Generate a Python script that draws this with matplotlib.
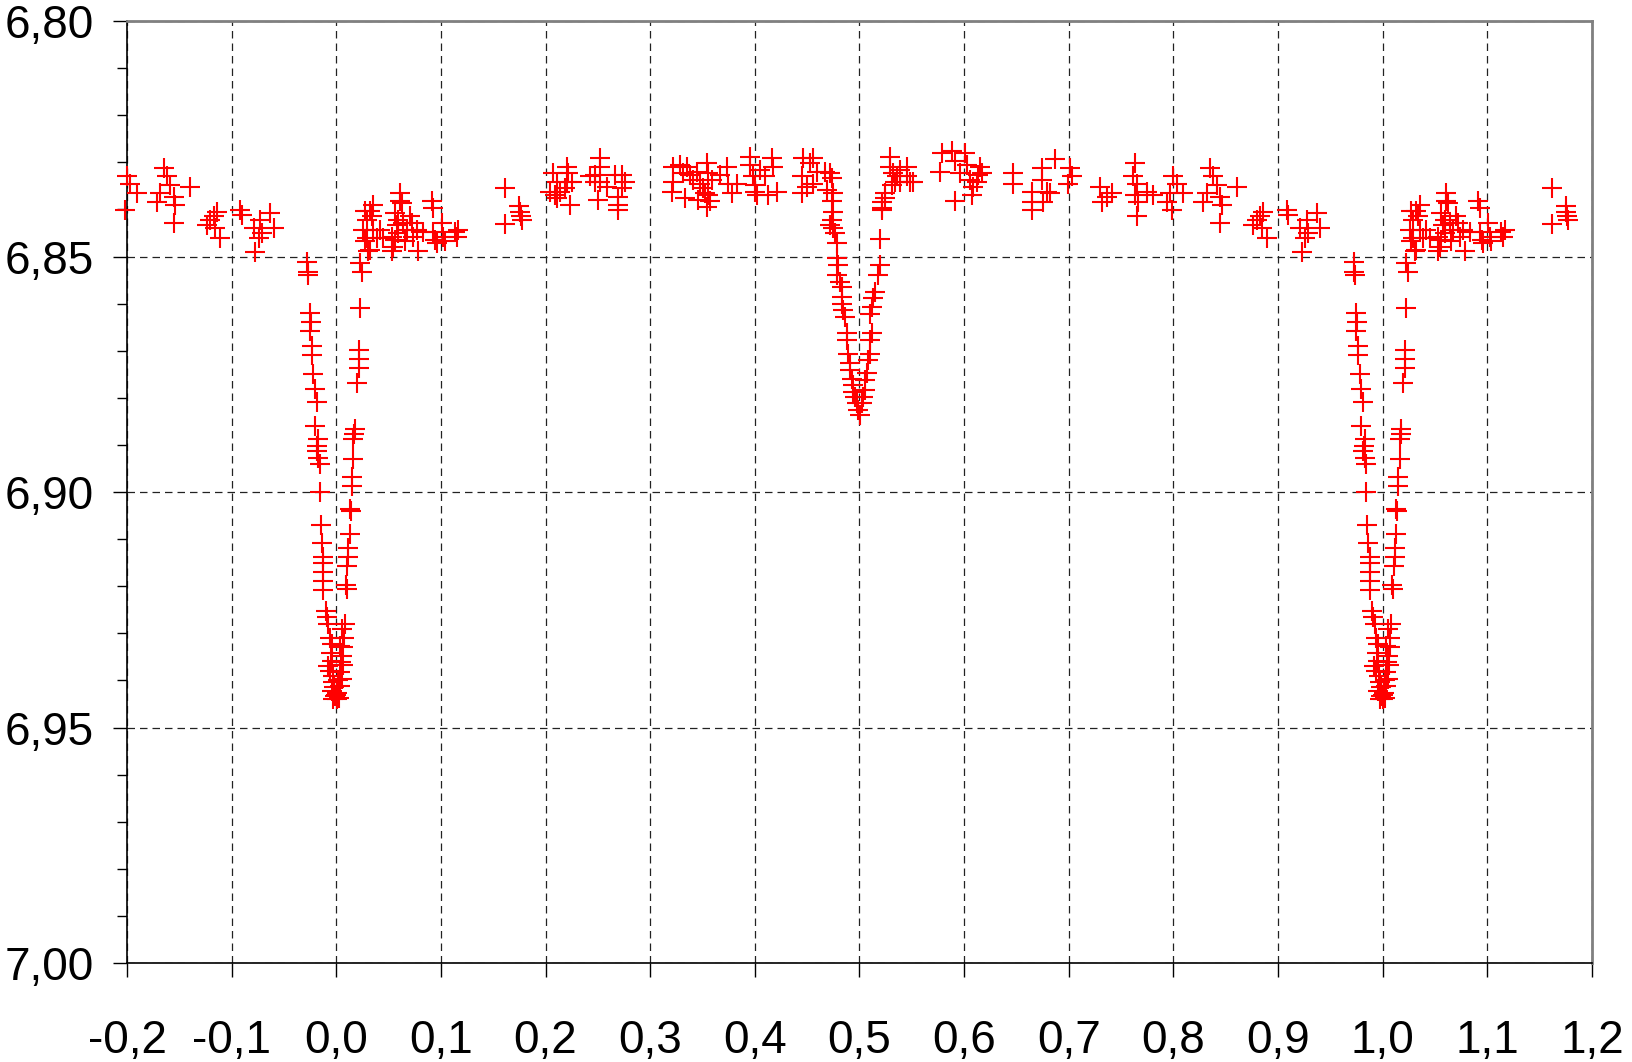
import numpy as np
import matplotlib
matplotlib.use("Agg")
import matplotlib.pyplot as plt
from matplotlib.ticker import MultipleLocator, FuncFormatter

plt.rcParams['font.family'] = ['Liberation Sans Narrow', 'Liberation Sans', 'DejaVu Sans']

# phases (base cycle); points near 0 and 1 are repeated
# on the other side, as in the usual phase diagram
primary_phase = [-0.0277, -0.0274, -0.0268, -0.0252, -0.0242, -0.0252, -0.0236, -0.0236, -0.0220,
                 -0.0204, -0.0188, -0.0204, -0.0172, -0.0182, -0.0188, -0.0172, -0.0156, -0.0156,
                 -0.0147, -0.0137, -0.0124, -0.0124, -0.0124, -0.0124, -0.0124, -0.0099, -0.0092,
                 -0.0076, -0.0061, -0.0045, -0.0054, -0.0045, -0.0061, -0.0035, -0.0029, -0.0045,
                 -0.0013, 0.0003,
                 0.0010, 0.0035, 0.0051, 0.0035, 0.0061, 0.0051, 0.0035, 0.0073, 0.0051, 0.0083,
                 0.0099, 0.0092, 0.0105, 0.0115, 0.0115, 0.0131, 0.0137, 0.0131, 0.0147, 0.0147,
                 0.0162, 0.0162, 0.0172, 0.0178, 0.0194, 0.0217, 0.0217, 0.0217, 0.0226, 0.0242,
                 0.0226, -0.0080, 0.0020, -0.0020, 0.0000, 0.0025, -0.0030, 0.0045, 0.0065]
primary_mag = [6.8511, 6.8533, 6.8539, 6.8619, 6.8638, 6.8658, 6.8690, 6.8709, 6.8750,
               6.8782, 6.8809, 6.8860, 6.8888, 6.8902, 6.8913, 6.8927, 6.8941, 6.9000,
               6.9070, 6.9109, 6.9139, 6.9150, 6.9169, 6.9189, 6.9208, 6.9252, 6.9266,
               6.9281, 6.9309, 6.9323, 6.9341, 6.9358, 6.9380, 6.9390, 6.9404, 6.9422,
               6.9433, 6.9440,
               6.9426, 6.9412, 6.9397, 6.9383, 6.9368, 6.9348, 6.9327, 6.9309, 6.9291, 6.9281,
               6.9206, 6.9198, 6.9157, 6.9138, 6.9118, 6.9090, 6.9040, 6.9036, 6.8987, 6.8968,
               6.8929, 6.8887, 6.8877, 6.8867, 6.8769, 6.8737, 6.8718, 6.8698, 6.8610, 6.8532,
               6.8513, 6.9370, 6.9400, 6.9415, 6.9430, 6.9437, 6.9440, 6.9360, 6.9330]

egress_phase = [0.0306, 0.0322, 0.0274, 0.0290, 0.0259, 0.0354, 0.0290, 0.0322, 0.0274, 0.0354,
                0.0338, 0.0386, 0.0418, 0.0450, 0.0529, 0.0545, 0.0561, 0.0593, 0.0577, 0.0561,
                0.0609, 0.0609, 0.0625, 0.0593, 0.0641, 0.0673, 0.0705, 0.0720, 0.0736, 0.0768,
                0.0784, 0.0832, 0.0912, 0.0928, 0.0928, 0.0944, 0.0959, 0.1007, 0.1023, 0.1039,
                0.1135, 0.1166, 0.1150, 0.0657, 0.0529]
egress_mag = [6.8489, 6.8486, 6.8468, 6.8461, 6.8443, 6.8443, 6.8422, 6.8404, 6.8404, 6.8390,
              6.8415, 6.8461, 6.8443, 6.8461, 6.8489, 6.8479, 6.8465, 6.8450, 6.8433, 6.8408,
              6.8383, 6.8366, 6.8387, 6.8422, 6.8429, 6.8443, 6.8415, 6.8429, 6.8458, 6.8443,
              6.8489, 6.8447, 6.8383, 6.8397, 6.8447, 6.8465, 6.8472, 6.8429, 6.8458, 6.8468,
              6.8447, 6.8443, 6.8458, 6.8468, 6.8458]

max1_phase = [0.1613, 0.1613, 0.1750, 0.1756, 0.1765, 0.1772,
              0.2075, 0.2107, 0.2202, 0.2218, 0.2138, 0.2043, 0.2107, 0.2234, 0.2202, 0.2186,
              0.2091, 0.2250,
              0.2521, 0.2521, 0.2425, 0.2473, 0.2521, 0.2584, 0.2664, 0.2728, 0.2760, 0.2696,
              0.2696, 0.2696, 0.2505, 0.2473, 0.2728,
              0.3221, 0.3221, 0.3205, 0.3285, 0.3317, 0.3348, 0.3380, 0.3412, 0.3444, 0.3476,
              0.3508, 0.3540, 0.3555, 0.3555, 0.3571, 0.3587, 0.3524, 0.3667, 0.3731, 0.3747,
              0.3779, 0.3826, 0.3954, 0.3954, 0.3986, 0.4002, 0.4002, 0.4017, 0.4049, 0.4097,
              0.4129, 0.4161, 0.4177, 0.4209, 0.4464, 0.4447, 0.4527, 0.4559, 0.4591, 0.4495,
              0.4447, 0.4559, 0.4670, 0.4718, 0.4734, 0.4686, 0.4750, 0.4734, 0.4734, 0.4718,
              0.3330, 0.3460, 0.3540]
max1_mag = [6.8354, 6.8430, 6.8392, 6.8405, 6.8415, 6.8422,
            6.8323, 6.8341, 6.8309, 6.8323, 6.8362, 6.8362, 6.8376, 6.8390, 6.8341, 6.8355,
            6.8369, 6.8341,
            6.8291, 6.8309, 6.8330, 6.8341, 6.8341, 6.8352, 6.8327, 6.8327, 6.8341, 6.8373,
            6.8390, 6.8401, 6.8380, 6.8327, 6.8355,
            6.8309, 6.8341, 6.8362, 6.8306, 6.8323, 6.8309, 6.8327, 6.8337, 6.8320, 6.8345,
            6.8355, 6.8302, 6.8323, 6.8369, 6.8383, 6.8337, 6.8366, 6.8327, 6.8309, 6.8345,
            6.8366, 6.8345, 6.8288, 6.8306, 6.8330, 6.8348, 6.8362, 6.8369, 6.8316, 6.8330,
            6.8369, 6.8291, 6.8309, 6.8362, 6.8291, 6.8330, 6.8302, 6.8291, 6.8320, 6.8352,
            6.8366, 6.8345, 6.8320, 6.8323, 6.8334, 6.8359, 6.8366, 6.8383, 6.8422, 6.8433,
            6.8376, 6.8380, 6.8394]

secondary_phase = [0.4751, 0.4751, 0.4766, 0.4782, 0.4782, 0.4798, 0.4782, 0.4814, 0.4830,
                   0.4830, 0.4830, 0.4846, 0.4862, 0.4878, 0.4878, 0.4894, 0.4910, 0.4910,
                   0.4926, 0.4942, 0.4942, 0.4958, 0.4974, 0.4989, 0.5005,
                   0.5021, 0.5037, 0.5053, 0.5053, 0.5069, 0.5085, 0.5101, 0.5101, 0.5117,
                   0.5101, 0.5117, 0.5133, 0.5149, 0.5181, 0.5196, 0.5196, 0.5212, 0.5212,
                   0.5244, 0.5245, 0.5213]
secondary_mag = [6.8405, 6.8440, 6.8451, 6.8472, 6.8504, 6.8518, 6.8539, 6.8554, 6.8564,
                 6.8585, 6.8600, 6.8614, 6.8628, 6.8663, 6.8677, 6.8706, 6.8727, 6.8741,
                 6.8759, 6.8773, 6.8787, 6.8798, 6.8812, 6.8826, 6.8837,
                 6.8812, 6.8798, 6.8784, 6.8763, 6.8748, 6.8720, 6.8706, 6.8677, 6.8663,
                 6.8621, 6.8607, 6.8589, 6.8575, 6.8539, 6.8518, 6.8462, 6.8402, 6.8384,
                 6.8366, 6.8376, 6.8398]

max2_phase = [0.5292, 0.5292, 0.5324, 0.5340, 0.5308, 0.5388, 0.5451, 0.5451, 0.5483, 0.5356,
              0.5388, 0.5515,
              0.5786, 0.5882, 0.5770, 0.5914, 0.5961, 0.6009, 0.6025, 0.6057, 0.6089, 0.6137,
              0.6153, 0.5914, 0.6073, 0.6121, 0.6168,
              0.6470, 0.6470, 0.6646, 0.6646, 0.6646, 0.6741, 0.6741, 0.6789, 0.6757, 0.6869,
              0.6821, 0.7012, 0.7028, 0.6996, 0.7299, 0.7315, 0.7362, 0.7410, 0.7633, 0.7617,
              0.7649, 0.7633, 0.7665, 0.7745, 0.7649, 0.7808, 0.7968, 0.8000, 0.8032, 0.7936,
              0.7984, 0.8095, 0.8350, 0.8382, 0.8414, 0.8318, 0.8286, 0.8446, 0.8462, 0.8605,
              0.8446,
              0.8764, 0.8796, 0.8828, 0.8860, 0.8844, 0.8891, 0.9082, 0.9099, 0.9210, 0.9274,
              0.9290, 0.9369, 0.9401, 0.9226, 0.9258]
max2_mag = [6.8288, 6.8309, 6.8323, 6.8341, 6.8348, 6.8316, 6.8309, 6.8330, 6.8341, 6.8330,
            6.8341, 6.8341,
            6.8281, 6.8277, 6.8320, 6.8298, 6.8323, 6.8281, 6.8306, 6.8337, 6.8352, 6.8327,
            6.8309, 6.8383, 6.8369, 6.8341, 6.8323,
            6.8323, 6.8345, 6.8362, 6.8384, 6.8401, 6.8313, 6.8337, 6.8362, 6.8384, 6.8292,
            6.8366, 6.8313, 6.8330, 6.8345, 6.8352, 6.8384, 6.8373, 6.8366, 6.8302, 6.8330,
            6.8345, 6.8369, 6.8384, 6.8362, 6.8415, 6.8369, 6.8366, 6.8330, 6.8345, 6.8384,
            6.8401, 6.8366, 6.8313, 6.8330, 6.8348, 6.8366, 6.8384, 6.8373, 6.8390, 6.8352,
            6.8429,
            6.8433, 6.8422, 6.8415, 6.8405, 6.8440, 6.8461, 6.8401, 6.8412, 6.8440, 6.8422,
            6.8451, 6.8408, 6.8440, 6.8490, 6.8461]

phase = np.array(primary_phase + egress_phase + max1_phase + secondary_phase + max2_phase)
mag = np.array(primary_mag + egress_mag + max1_mag + secondary_mag + max2_mag)

left = phase > 0.797
right = phase < 0.2
x = np.concatenate([phase, phase[left] - 1, phase[right] + 1])
y = np.concatenate([mag, mag[left], mag[right]])

fig = plt.figure(figsize=(16.32, 10.62), dpi=100)
ax = fig.add_axes([0.0778, 0.0932, 0.8977, 0.8870])

ax.plot(x, y, linestyle='none', marker='+', color='#ff0000', markersize=14,
        markeredgewidth=1.5, clip_on=False, zorder=3)

ax.set_xlim(-0.2, 1.2)
ax.set_ylim(7.00, 6.80)
ax.xaxis.set_major_locator(MultipleLocator(0.1))
ax.yaxis.set_major_locator(MultipleLocator(0.05))
ax.yaxis.set_minor_locator(MultipleLocator(0.01))

def comma(fmt):
    return FuncFormatter(lambda v, pos: (fmt % (round(v, 3) + 0.0)).replace('.', ','))

ax.xaxis.set_major_formatter(comma('%.1f'))
ax.yaxis.set_major_formatter(comma('%.2f'))

ax.tick_params(axis='both', which='major', direction='out', length=10, width=1,
               labelsize=33, colors='black')
ax.tick_params(axis='y', which='minor', direction='out', length=7.5, width=1)
ax.tick_params(axis='y', which='major', pad=14)
ax.tick_params(axis='x', which='major', pad=30)

ax.grid(True, which='major', color='#222222', linestyle=(0, (6, 4)), linewidth=0.9)
ax.set_axisbelow(True)

for s in ['top', 'right']:
    ax.spines[s].set_color('#808080')
    ax.spines[s].set_linewidth(2)
for s in ['left', 'bottom']:
    ax.spines[s].set_color('black')
    ax.spines[s].set_linewidth(1.2)

fig.savefig('out.png', dpi=100)
